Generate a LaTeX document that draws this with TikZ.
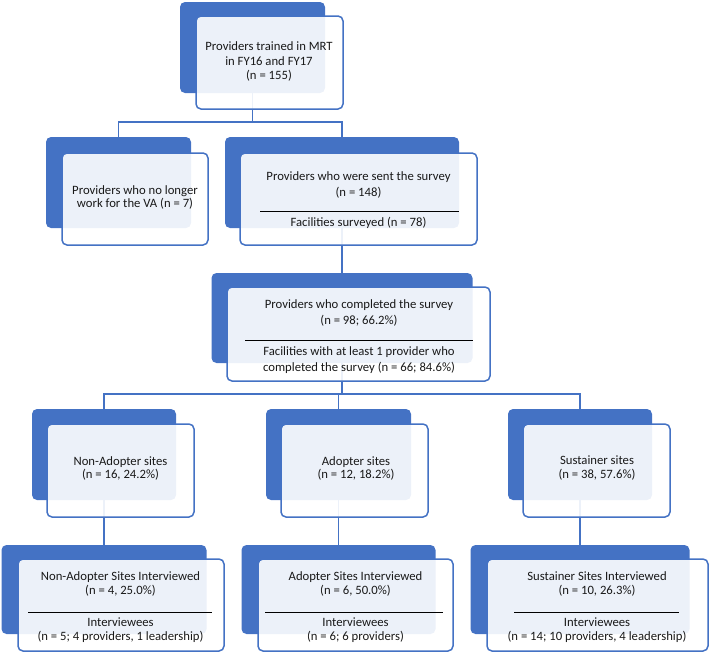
\documentclass[tikz,border=0pt]{standalone}
\usepackage{fontspec}
\setmainfont{Carlito}
\definecolor{vablue}{HTML}{4472C4}
\begin{document}
\begin{tikzpicture}[x=1pt,y=-1pt,
  darkbox/.style={rectangle, rounded corners=5pt, fill=vablue, draw=none, inner sep=0pt},
  frontbox/.style={rectangle, rounded corners=5pt, draw=vablue, line width=1.5pt, fill=white, fill opacity=0.9, inner sep=0pt},
  conn/.style={draw=vablue, line width=1.5pt},
  sepline/.style={draw=black, line width=0.7pt},
  txt/.style={anchor=base, inner sep=0pt, font=\fontsize{12.7}{15}\selectfont, text=black!90}]
\useasboundingbox (0,0) rectangle (709,653);
% dark boxes
\node[darkbox, minimum width=145pt, minimum height=91pt] (d1)  at (252.5,47.5) {};
\node[darkbox, minimum width=145pt, minimum height=91pt] (d2l) at (118.5,182.5) {};
\node[darkbox, minimum width=234pt, minimum height=91pt] (d2r) at (342,182.5) {};
\node[darkbox, minimum width=261pt, minimum height=90pt] (d3)  at (342,318) {};
\node[darkbox, minimum width=144pt, minimum height=91pt] (d4a) at (104,454.5) {};
\node[darkbox, minimum width=145pt, minimum height=91pt] (d4b) at (338.5,454.5) {};
\node[darkbox, minimum width=144pt, minimum height=91pt] (d4c) at (580,454.5) {};
\node[darkbox, minimum width=205pt, minimum height=89pt] (d5a) at (104,589.5) {};
\node[darkbox, minimum width=194pt, minimum height=89pt] (d5b) at (338.5,589.5) {};
\node[darkbox, minimum width=219pt, minimum height=89pt] (d5c) at (580,589.5) {};
% connectors
\coordinate (j1) at (252.5,122);
\coordinate (j3) at (342,394);
\draw[conn] (d1.south) -- (j1);
\draw[conn] (j1) -| (d2l.north);
\draw[conn] (j1) -| (d2r.north);
\draw[conn] (d2r.south) -- (d3.north);
\draw[conn] (d3.south) -- (j3);
\draw[conn] (j3) -| (d4a.north);
\draw[conn] (j3) -| (d4b.north);
\draw[conn] (j3) -| (d4c.north);
\draw[conn] (d4a.south) -- (d5a.north);
\draw[conn] (d4b.south) -- (d5b.north);
\draw[conn] (d4c.south) -- (d5c.north);
% front boxes
\node[frontbox, minimum width=147pt, minimum height=93pt] (f1)  at (269.5,62.5) {};
\node[frontbox, minimum width=146pt, minimum height=92pt] (f2l) at (135,199) {};
\node[frontbox, minimum width=237pt, minimum height=92pt] (f2r) at (358.5,199) {};
\node[frontbox, minimum width=263pt, minimum height=94pt] (f3)  at (358.5,334) {};
\node[frontbox, minimum width=147pt, minimum height=93pt] (f4a) at (120.5,470.5) {};
\node[frontbox, minimum width=147pt, minimum height=93pt] (f4b) at (354.5,470.5) {};
\node[frontbox, minimum width=147pt, minimum height=93pt] (f4c) at (596.5,470.5) {};
\node[frontbox, minimum width=206pt, minimum height=92pt] (f5a) at (121,605) {};
\node[frontbox, minimum width=195pt, minimum height=92pt] (f5b) at (355.5,605) {};
\node[frontbox, minimum width=221pt, minimum height=92pt] (f5c) at (597.5,605) {};
% separator lines
\draw[sepline] (260,211) -- (459,211);
\draw[sepline] (245,340) -- (473,340);
\draw[sepline] (28,612) -- (212,612);
\draw[sepline] (265,612) -- (443,612);
\draw[sepline] (514,612) -- (679,612);
% texts
\node[txt] (t1a) at (269,50) {Providers trained in MRT};
\node[txt] (t1b) at (269,65) {in FY16 and FY17};
\node[txt] (t1c) at (269,79) {(n = 155)};
\node[txt] (t2la) at (135,194) {Providers who no longer};
\node[txt] (t2lb) at (135,207) {work for the VA (n = 7)};
\node[txt] (t2ra) at (358.5,180) {Providers who were sent the survey};
\node[txt] (t2rb) at (358.5,196) {(n = 148)};
\node[txt] (t2rc) at (358.5,226) {Facilities surveyed (n = 78)};
\node[txt] (t3a) at (359,308.5) {Providers who completed the survey};
\node[txt] (t3b) at (359,324) {(n = 98; 66.2\%)};
\node[txt] (t3c) at (359,355) {Facilities with at least 1 provider who};
\node[txt] (t3d) at (359,371) {completed the survey (n = 66; 84.6\%)};
\node[txt] (t4aa) at (120.5,465) {Non-Adopter sites};
\node[txt] (t4ab) at (120.5,478) {(n = 16, 24.2\%)};
\node[txt] (t4ba) at (356,465) {Adopter sites};
\node[txt] (t4bb) at (356,478) {(n = 12, 18.2\%)};
\node[txt] (t4ca) at (597,464) {Sustainer sites};
\node[txt] (t4cb) at (597,478) {(n = 38, 57.6\%)};
\node[txt] (t5aa) at (120.5,580) {Non-Adopter Sites Interviewed};
\node[txt] (t5ab) at (120.5,594) {(n = 4, 25.0\%)};
\node[txt] (t5ac) at (120.5,626) {Interviewees};
\node[txt] (t5ad) at (120.5,640) {(n = 5; 4 providers, 1 leadership)};
\node[txt] (t5ba) at (355.5,580) {Adopter Sites Interviewed};
\node[txt] (t5bb) at (355.5,594) {(n = 6, 50.0\%)};
\node[txt] (t5bc) at (355.5,626) {Interviewees};
\node[txt] (t5bd) at (355.5,640) {(n = 6; 6 providers)};
\node[txt] (t5ca) at (597,580) {Sustainer Sites Interviewed};
\node[txt] (t5cb) at (597,594) {(n = 10, 26.3\%)};
\node[txt] (t5cc) at (597,626) {Interviewees};
\node[txt] (t5cd) at (597,640) {(n = 14; 10 providers, 4 leadership)};
\end{tikzpicture}
\end{document}
